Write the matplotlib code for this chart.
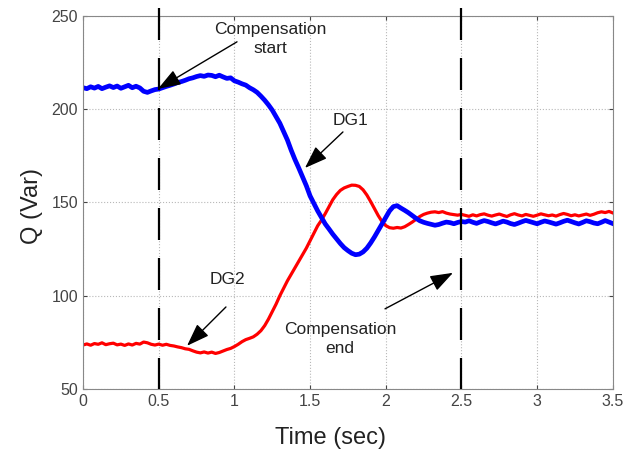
import numpy as np
import matplotlib
matplotlib.use('Agg')
import matplotlib.pyplot as plt

plt.rcParams['font.family'] = ['Liberation Sans', 'DejaVu Sans']

# sample times (every 0.025 s)
t = np.linspace(0, 3.5, 141)

# DG1 reactive power (Var)
q_dg1 = [
    211.5, 211.0, 212.0, 211.3, 212.2, 211.0, 211.8, 212.5, 211.6, 212.4,
    211.2, 212.0, 212.8, 211.5, 212.3, 211.4, 209.6, 209.0, 209.8, 210.5,
    210.8, 211.5, 212.2, 212.8, 213.5, 214.3, 214.8, 215.5, 216.3, 216.8,
    217.5, 218.0, 217.6, 218.3, 218.1, 217.4, 218.2, 217.3, 216.5, 216.8,
    215.2, 214.5, 213.6, 212.9, 211.5, 210.4, 209.0, 207.0, 204.8, 202.3,
    199.5, 196.0, 192.5, 188.0, 183.5, 178.0, 173.0, 168.5, 163.8, 159.0,
    153.5, 149.5, 145.5, 142.0, 138.5, 135.8, 133.0, 130.5, 128.0, 125.8,
    124.2, 122.8, 122.0, 122.3, 123.5, 125.5, 128.3, 131.5, 135.0, 138.5,
    142.0, 145.5, 147.8, 148.3, 147.0, 145.8, 144.5, 143.0, 141.5, 140.2,
    139.4, 138.8, 138.3, 137.8, 138.2, 138.9, 139.5, 139.2, 138.6, 139.3,
    139.8, 139.5, 140.2, 139.4, 138.8, 139.6, 140.3, 139.8, 139.1, 138.5,
    139.2, 140.0, 139.5, 138.7, 138.2, 138.9, 139.7, 140.4, 139.8, 139.2,
    138.6, 139.4, 140.1, 139.6, 139.0, 138.4, 139.1, 139.9, 140.5, 139.8,
    139.1, 138.5, 139.3, 140.2, 139.7, 139.0, 138.6, 139.4, 140.3, 139.5,
    138.7,
]

# DG2 reactive power (Var)
q_dg2 = [
    73.6, 74.2, 73.5, 74.4, 74.0, 74.8, 73.8, 74.3, 74.6, 73.7,
    74.1, 73.4, 74.2, 73.6, 74.5, 74.1, 75.2, 74.8, 74.0, 73.6,
    74.1, 73.5, 74.0, 73.4, 73.1, 72.6, 72.2, 71.6, 71.3, 70.5,
    69.8, 69.4, 69.9, 69.3, 69.8, 69.1, 69.6, 70.4, 71.2, 71.8,
    72.8, 74.0, 75.4, 76.5, 77.2, 78.0, 79.4, 81.3, 84.0, 87.5,
    91.5, 95.5, 100.0, 104.0, 108.0, 111.5, 115.0, 118.6, 122.0, 125.5,
    129.5, 133.5, 137.5, 140.5, 144.0, 147.8, 151.5, 154.3, 156.5, 157.8,
    158.6, 159.3, 159.2, 158.6, 156.8, 154.0, 150.5, 146.8, 143.0, 139.8,
    137.6, 136.5, 136.2, 136.6, 136.3, 137.0, 138.2, 139.5, 141.0, 142.5,
    143.6, 144.3, 144.8, 145.0, 144.6, 145.1, 144.3, 143.8, 143.5, 143.2,
    143.6, 143.1, 142.6, 143.4, 142.8, 143.5, 143.9, 143.2, 142.7, 143.3,
    143.8, 143.1, 142.5, 143.4, 144.0, 143.3, 142.8, 143.6, 143.1, 142.6,
    143.2, 143.9, 143.4, 142.9, 143.3, 142.7, 143.5, 144.1, 143.6, 142.9,
    143.4, 142.8, 143.3, 143.8, 143.1, 143.7, 144.5, 145.0, 144.6, 145.2,
    144.4,
]

t_start, t_end = 0.5, 2.5

fig = plt.figure(figsize=(6.39, 4.54), dpi=100)
ax = fig.add_axes([0.130, 0.143, 0.829, 0.822])

ax.plot(t, q_dg2, color='#ff0000', lw=2.3, solid_joinstyle='round')
ax.plot(t, q_dg1, color='#0000ff', lw=3.4, solid_joinstyle='round')

# compensation start / end markers
for tv in (t_start, t_end):
    ax.plot([tv, tv], [254, 50], color='k', lw=1.6,
            linestyle=(0, (14.4, 8.1)), clip_on=False, zorder=5)

ax.set_xlim(0, 3.5)
ax.set_ylim(50, 250)
ax.set_xticks([0, 0.5, 1, 1.5, 2, 2.5, 3, 3.5])
ax.set_xticklabels(['0', '0.5', '1', '1.5', '2', '2.5', '3', '3.5'])
ax.set_yticks([50, 100, 150, 200, 250])
ax.grid(True, color='#b8b8b8', linestyle=':', lw=0.8)
ax.tick_params(direction='in', length=3, colors='#444444', labelsize=11.5,
               top=True, right=True)
for s in ax.spines.values():
    s.set_color('#888888')
    s.set_linewidth(0.8)

ax.set_xlabel('Time (sec)', fontsize=17, color='#222222', va='center')
ax.xaxis.set_label_coords(0.468, -0.132)
ax.set_ylabel('Q (Var)', fontsize=17, color='#222222', va='center')
ax.yaxis.set_label_coords(-0.096, 0.49)

arrow = dict(arrowstyle='-|>,head_length=0.7,head_width=0.25', color='k',
             lw=1, mutation_scale=20, shrinkA=0, shrinkB=0)
ax.annotate('', xy=(0.495, 210.9), xytext=(1.017, 236.1), arrowprops=arrow)
ax.text(1.235, 237.8, 'Compensation\nstart', ha='center', va='center',
        fontsize=12.5, color='#222222', linespacing=1.35)
ax.annotate('', xy=(1.466, 168.5), xytext=(1.717, 187.8), arrowprops=arrow)
ax.text(1.764, 193.8, 'DG1', ha='center', va='center', fontsize=12.5,
        color='#222222')
ax.annotate('', xy=(0.687, 73.2), xytext=(0.944, 94), arrowprops=arrow)
ax.text(0.951, 108.8, 'DG2', ha='center', va='center', fontsize=12.5,
        color='#222222')
ax.annotate('', xy=(2.444, 112.3), xytext=(1.995, 93), arrowprops=arrow)
ax.text(1.697, 77.0, 'Compensation\nend', ha='center', va='center',
        fontsize=12.5, color='#222222', linespacing=1.35)

fig.savefig('out.png', dpi=100)
